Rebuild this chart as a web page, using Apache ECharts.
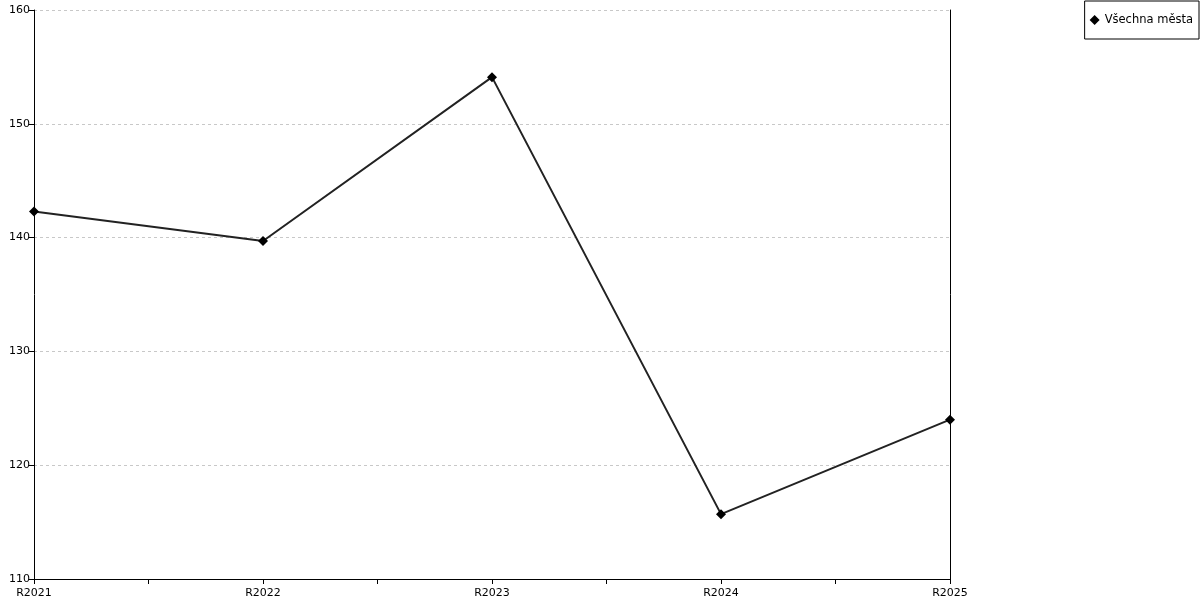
<!DOCTYPE html>
<html><head><meta charset="utf-8">
<script src="https://cdn.jsdelivr.net/npm/echarts@6/dist/echarts.min.js"></script>
<style>html,body{margin:0;padding:0;background:#fff}#c{width:1200px;height:600px}</style>
</head><body><div id="c"></div>
<script>
var categories = ['R2021','R2022','R2023','R2024','R2025'];
var seriesName = 'Všechna města';
var values = [142.3, 139.7, 154.1, 115.7, 124.0];
var yMin = 110, yMax = 160, yStep = 10;

var font = 'DejaVu Sans';
var chart = echarts.init(document.getElementById('c'));
chart.setOption({
  animation: false,
  textStyle: {fontFamily: font},
  grid: {left: 34, right: 250, top: 10, bottom: 21, containLabel: false},
  legend: {
    right: 1, top: 1, orient: 'vertical',
    data: [{name: seriesName, icon: 'diamond'}],
    itemWidth: 10, itemHeight: 10, itemGap: 4,
    padding: [13, 6, 13, 5],
    borderColor: '#000', borderWidth: 1, borderRadius: 0,
    textStyle: {fontFamily: font, fontSize: 11.5, color: '#000'}
  },
  xAxis: {
    type: 'value', min: 0, max: categories.length - 1, interval: 0.5,
    axisLine: {lineStyle: {color: '#000', width: 1}},
    axisTick: {show: true, length: 5, inside: false, lineStyle: {color: '#000'}},
    splitLine: {show: false},
    axisLabel: {
      fontSize: 11, color: '#000', margin: 9, showMinLabel: true, showMaxLabel: true,
      formatter: function (v) { return Number.isInteger(v) ? categories[v] : ''; }
    }
  },
  yAxis: [{
    type: 'value', min: yMin, max: yMax, interval: yStep,
    axisLine: {show: true, lineStyle: {color: '#000', width: 1}},
    axisTick: {show: true, length: 5, lineStyle: {color: '#000'}},
    axisLabel: {fontSize: 11, color: '#000', margin: 4},
    splitLine: {show: true, lineStyle: {color: '#c8c8c8', type: [3, 3], width: 1}}
  }, {
    type: 'value', min: yMin, max: yMax, interval: yStep, position: 'right',
    axisLine: {show: true, lineStyle: {color: '#000', width: 1}},
    axisTick: {show: false}, axisLabel: {show: false}, splitLine: {show: false}
  }],
  series: [{
    name: seriesName, type: 'line',
    data: values.map(function (v, i) { return [i, v]; }),
    symbol: 'diamond', symbolSize: 10,
    lineStyle: {color: '#222', width: 2},
    itemStyle: {color: '#000'},
    emphasis: {disabled: true}
  }]
});
</script></body></html>
